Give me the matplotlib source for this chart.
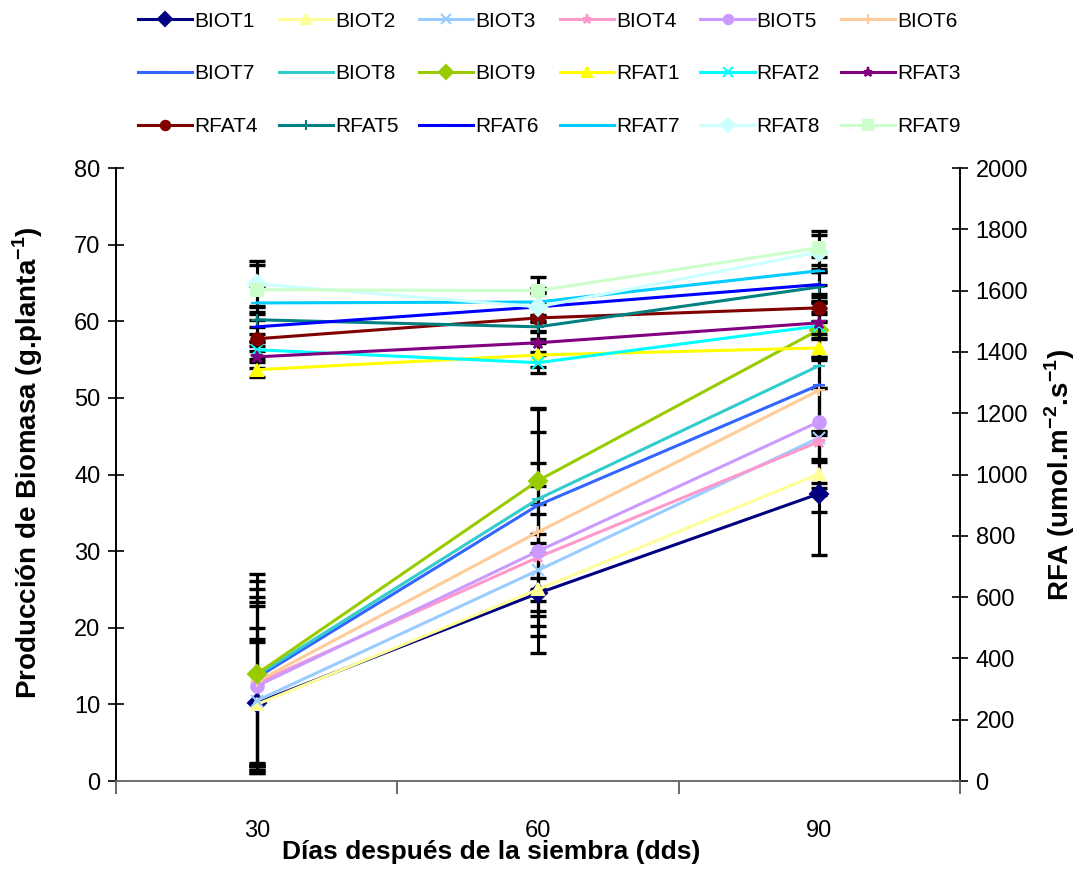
import matplotlib
matplotlib.use("Agg")
import matplotlib.pyplot as plt
from matplotlib.ticker import FixedLocator, NullFormatter

plt.rcParams['font.family'] = ['Liberation Sans', 'DejaVu Sans']
plt.rcParams['mathtext.fontset'] = 'custom'
plt.rcParams['mathtext.rm'] = 'Liberation Sans:bold'
plt.rcParams['mathtext.bf'] = 'Liberation Sans:bold'

days = [30, 60, 90]
x_labels = ["30", "60", "90"]

# Biomass (g/planta), left axis
biot_names = ["BIOT1", "BIOT2", "BIOT3", "BIOT4", "BIOT5", "BIOT6", "BIOT7", "BIOT8", "BIOT9"]
BIOT1 = [10.2, 24.5, 37.5]
BIOT2 = [10.0, 25.0, 40.1]
BIOT3 = [10.5, 27.5, 44.8]
BIOT4 = [12.8, 29.2, 44.3]
BIOT5 = [12.4, 30.0, 46.9]
BIOT6 = [13.0, 32.5, 51.0]
BIOT7 = [13.5, 36.0, 51.7]
BIOT8 = [13.8, 36.8, 54.2]
BIOT9 = [14.0, 39.2, 58.9]
biot_vals = [BIOT1, BIOT2, BIOT3, BIOT4, BIOT5, BIOT6, BIOT7, BIOT8, BIOT9]
biot_err = [[8.0, 7.8, 8.0], [8.5, 6.1, 5.0], [9.5, 7.3, 6.5], [10.5, 7.0, 7.0],
            [10.4, 8.5, 8.0], [11.0, 9.0, 9.0], [11.5, 9.5, 10.0], [12.3, 11.7, 8.5],
            [13.0, 9.5, 3.5]]

# RFA (umol m-2 s-1), right axis
rfat_names = ["RFAT1", "RFAT2", "RFAT3", "RFAT4", "RFAT5", "RFAT6", "RFAT7", "RFAT8", "RFAT9"]
RFAT1 = [1342, 1390, 1413]
RFAT2 = [1407, 1365, 1485]
RFAT3 = [1384, 1430, 1495]
RFAT4 = [1443, 1511, 1544]
RFAT5 = [1505, 1482, 1612]
RFAT6 = [1482, 1547, 1620]
RFAT7 = [1560, 1563, 1665]
RFAT8 = [1622, 1547, 1726]
RFAT9 = [1603, 1600, 1740]
rfat_vals = [RFAT1, RFAT2, RFAT3, RFAT4, RFAT5, RFAT6, RFAT7, RFAT8, RFAT9]
rfat_err = [[25, 40, 30], [30, 35, 40], [35, 40, 35], [40, 45, 45], [45, 40, 50],
            [50, 45, 40], [55, 45, 45], [75, 50, 55], [80, 45, 55]]

biot_colors = ["#000080", "#FFFF99", "#99CCFF", "#FF99CC", "#CC99FF", "#FFCC99",
               "#3366FF", "#33CCCC", "#99CC00"]
biot_markers = ["D", "^", "x", "*", "o", "+", "_", "_", "D"]
rfat_colors = ["#FFFF00", "#00FFFF", "#800080", "#800000", "#008080", "#0000FF",
               "#00CCFF", "#CCFFFF", "#CCFFCC"]
rfat_markers = ["^", "x", "*", "o", "+", "_", "_", "D", "s"]

fig = plt.figure(figsize=(10.88, 8.8), dpi=100)
ax = fig.add_axes([0.107, 0.1125, 0.775, 0.6965])
ax2 = ax.twinx()

handles = []
for name, vals, err, c, m in zip(biot_names, biot_vals, biot_err, biot_colors, biot_markers):
    ax.errorbar(days, vals, yerr=err, fmt='none', ecolor='black', elinewidth=2.2,
                capsize=6, capthick=2.4, zorder=2)
    h, = ax.plot(days, vals, color=c, marker=m, markersize=9, lw=2.2,
                 markeredgewidth=1.5, label=name, zorder=3)
    handles.append(h)
for name, vals, err, c, m in zip(rfat_names, rfat_vals, rfat_err, rfat_colors, rfat_markers):
    ax2.errorbar(days, vals, yerr=err, fmt='none', ecolor='black', elinewidth=2.2,
                 capsize=6, capthick=2.4, zorder=2)
    h, = ax2.plot(days, vals, color=c, marker=m, markersize=9, lw=2.2,
                  markeredgewidth=1.5, label=name, zorder=3)
    handles.append(h)

for a in (ax, ax2):
    a.set_xlim(15, 105)
    a.spines['top'].set_visible(False)
    a.spines['left'].set_color('black')
    a.spines['right'].set_color('black')
    a.spines['bottom'].set_color('#707070')
    for s in ('left', 'right', 'bottom'):
        a.spines[s].set_linewidth(1.2)

ax.set_ylim(0, 80)
ax.set_yticks(range(0, 81, 10))
ax2.set_ylim(0, 2000)
ax2.set_yticks(range(0, 2001, 200))

ax.xaxis.set_major_locator(FixedLocator([15, 45, 75, 105]))
ax.xaxis.set_major_formatter(NullFormatter())
ax.set_xticks(days, minor=True)
ax.set_xticklabels(x_labels, minor=True)
ax.tick_params(axis='x', which='major', length=9, width=1.2, direction='out', color='#505050')
ax.tick_params(axis='x', which='minor', length=0, labelsize=17, pad=28)
ax.tick_params(axis='y', length=11, width=1.2, direction='inout', labelsize=17, pad=6)
ax2.tick_params(axis='y', length=11, width=1.2, direction='inout', labelsize=17, pad=6)

ax.set_ylabel(r'Producción de Biomasa (g.planta$^{\mathbf{-1}}$)', fontsize=20,
              fontweight='bold')
ax.yaxis.set_label_coords(-0.085, 0.52)
ax2.set_ylabel(r'RFA (umol.m$^{\mathbf{-2}}$.s$^{\mathbf{-1}}$)', fontsize=20,
               fontweight='bold', labelpad=10)
ax.set_xlabel('Días después de la siembra (dds)', fontsize=19, fontweight='bold')
ax.xaxis.set_label_coords(0.445, -0.097)

order = []
for c in range(6):
    for r in range(3):
        order.append(6 * r + c)
leg_h = [handles[i] for i in order]
leg_l = [handles[i].get_label() for i in order]
fig.legend(leg_h, leg_l, ncol=6, loc='upper center', bbox_to_anchor=(0.505, 1.008),
           frameon=False, fontsize=15, handlelength=2.6, handletextpad=0.1,
           columnspacing=1.0, labelspacing=1.62, borderpad=0.4, markerscale=0.75)

fig.savefig('out.png', dpi=100)
